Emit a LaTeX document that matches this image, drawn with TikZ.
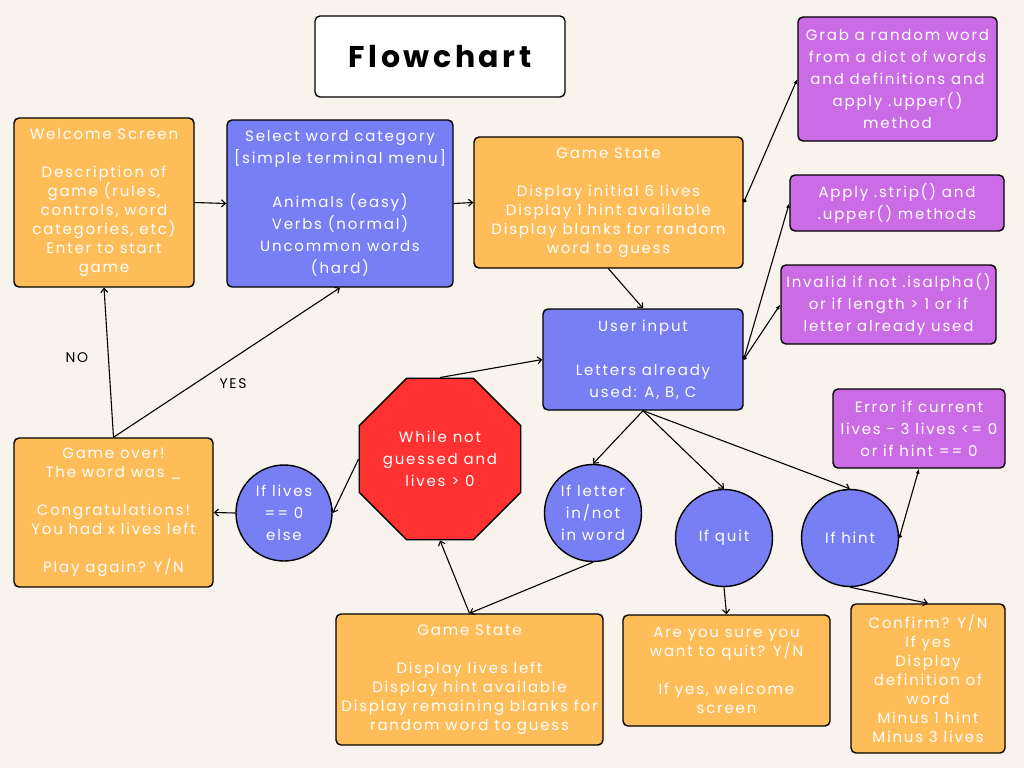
\documentclass[tikz,border=0pt]{standalone}
\usepackage{fontspec}
\setmainfont{Poppins}[LetterSpace=12]
\newfontfamily\titlefont{Poppins}[LetterSpace=12]
\usetikzlibrary{shapes.geometric,arrows.meta}
\definecolor{bg}{HTML}{F8F4ED}
\definecolor{orng}{HTML}{FFBD59}
\definecolor{blu}{HTML}{787EF4}
\definecolor{purp}{HTML}{CB6CE6}
\definecolor{redd}{HTML}{FF3131}
\tikzset{
  box/.style={draw=black, line width=1.4pt, rounded corners=5pt, inner sep=0pt, align=center, text=white, font=\fontsize{15}{19}\selectfont},
  orangebox/.style={box, fill=orng},
  bluebox/.style={box, fill=blu, font=\fontsize{15}{22}\selectfont},
  purplebox/.style={box, fill=purp, font=\fontsize{15}{22}\selectfont},
  circ/.style={circle, draw=black, line width=1.4pt, fill=blu, minimum size=97pt, inner sep=0pt, align=center, text=white, font=\fontsize{15}{22}\selectfont},
  arr/.style={-{Straight Barb[length=4pt,width=7pt]}, line width=1.1pt},
  dotarr/.style={{Circle[length=4pt]}-{Latex[length=5pt,width=4pt]}, line width=1.1pt},
  lbl/.style={text=black, font=\fontsize{14}{16}\selectfont}
}
\begin{document}
\begin{tikzpicture}[x=1pt,y=-1pt]
\fill[bg] (0,0) rectangle (1024,768);
\useasboundingbox (0,0) rectangle (1024,768);

\node[box, fill=white, text=black, minimum width=250pt, minimum height=81pt, font=\titlefont\fontsize{30}{32}\selectfont\bfseries] (title) at (440,56.5) {Flowchart};

\node[orangebox, minimum width=180pt, minimum height=169pt] (welcome) at (104,202.5)
 {Welcome Screen\\[19pt]Description of\\game (rules,\\controls, word\\categories, etc)\\Enter to start\\game};
\node[bluebox, minimum width=226pt, minimum height=167pt] (select) at (340,203.5)
 {Select word category\\{[simple terminal menu]}\\[22pt]Animals (easy)\\Verbs (normal)\\Uncommon words\\(hard)};
\node[orangebox, minimum width=269pt, minimum height=131pt] (gs1) at (608.5,202.5)
 {Game State\\[19pt]Display initial 6 lives\\Display 1 hint available\\Display blanks for random\\word to guess};
\node[purplebox, minimum width=199pt, minimum height=124pt] (p1) at (897.5,79)
 {Grab a random word\\from a dict of words\\and definitions and\\apply .upper()\\method};
\node[purplebox, minimum width=214pt, minimum height=56pt] (p2) at (897,203)
 {Apply .strip() and\\.upper() methods};
\node[purplebox, minimum width=215pt, minimum height=79pt] (p3) at (888.5,304.5)
 {Invalid if not .isalpha()\\or if length > 1 or if\\letter already used};
\node[bluebox, minimum width=200pt, minimum height=101pt] (ui) at (643,359.5)
 {User input\\[22pt]Letters already\\used: A, B, C};
\node[regular polygon, regular polygon sides=8, minimum size=171pt, inner sep=0pt, draw=black, line width=1.4pt, fill=redd, align=center, text=white, font=\fontsize{15}{22}\selectfont] (oct) at (440,459)
 {While not\\guessed and\\lives > 0};
\node[circ, minimum size=96pt] (lives) at (284,513) {If lives\\== 0\\else};
\node[orangebox, minimum width=199pt, minimum height=149pt] (over) at (113.5,512.5)
 {Game over!\\The word was \_\\[19pt]Congratulations!\\You had x lives left\\[19pt]Play again? Y/N};
\node[circ] (letter) at (593,513) {If letter\\in/not\\in word};
\node[circ] (quit) at (724,538) {If quit};
\node[circ] (hint) at (850,538) {If hint};
\node[purplebox, minimum width=172pt, minimum height=79pt] (p4) at (919,428.5)
 {Error if current\\lives - 3 lives <= 0\\or if hint == 0};
\node[orangebox, minimum width=267pt, minimum height=131pt] (gs2) at (469.5,679.5)
 {Game State\\[19pt]Display lives left\\Display hint available\\Display remaining blanks for\\random word to guess};
\node[orangebox, minimum width=207pt, minimum height=111pt] (quitbox) at (726.5,670.5)
 {Are you sure you\\want to quit? Y/N\\[19pt]If yes, welcome\\screen};
\node[orangebox, minimum width=154pt, minimum height=149pt] (hintbox) at (928,678.5)
 {Confirm? Y/N\\If yes\\Display\\definition of\\word\\Minus 1 hint\\Minus 3 lives};

\node[lbl] (no) at (77,358) {NO};
\node[lbl] (yes) at (233,384) {YES};

\draw[arr] (welcome.east) -- (select.west);
\draw[arr] (select.east) -- (gs1.west);
\draw[dotarr] (gs1.east) -- (p1.west);
\draw[arr] (gs1.south) -- (ui.north);
\draw[arr] (oct.north) -- (ui.west);
\draw[arr] (ui.south) -- (letter.north);
\draw[arr] (ui.south) -- (quit.north);
\draw[arr] (ui.south) -- (hint.north);
\draw[arr] (quit.south) -- (quitbox.north);
\draw[arr] (hint.south) -- (hintbox.north);
\draw[arr] (letter.south) -- (gs2.north);
\draw[arr] (gs2.north) -- (oct.south);
\draw[arr] (oct.west) -- (lives.east);
\draw[arr] (lives.west) -- (over.east);
\draw[arr] (over.north) -- (welcome.south);
\draw[arr] (over.north) -- (select.south);
\draw[dotarr] (ui.east) -- (p2.west);
\draw[dotarr] (ui.east) -- (p3.west);
\draw[dotarr] (hint.east) -- (p4.south);
\end{tikzpicture}
\end{document}
